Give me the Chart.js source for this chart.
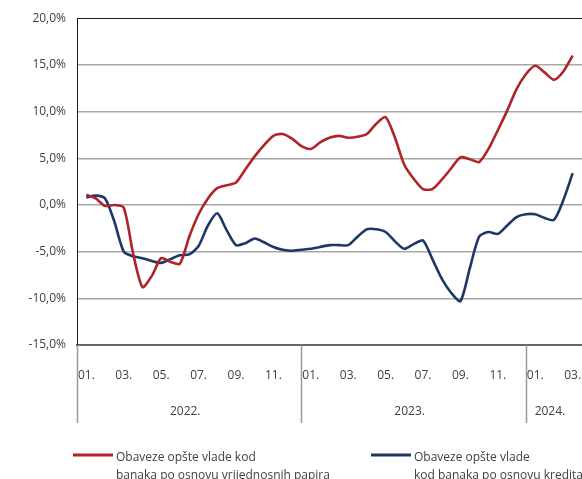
<!DOCTYPE html>
<html>
<head>
<meta charset="utf-8">
<script src="https://cdn.jsdelivr.net/npm/chart.js@4.4.1/dist/chart.umd.min.js"></script>
<style>
  html, body { margin: 0; padding: 0; background: #fff; }
</style>
</head>
<body>
<canvas id="myChart" width="582" height="479"></canvas>
<script>
// mjeseci od 01.2022 do 03.2024
const monthLabels = [
  '01.', '02.', '03.', '04.', '05.', '06.', '07.', '08.', '09.', '10.', '11.', '12.',
  '01.', '02.', '03.', '04.', '05.', '06.', '07.', '08.', '09.', '10.', '11.', '12.',
  '01.', '02.', '03.'
];
const yearLabels = ['2022.', '2023.', '2024.'];
const yearStart = [0, 12, 24];
const yearEnd = [12, 24, 27];

const yTicks = [20, 15, 10, 5, 0, -5, -10, -15];

// polumjesecni podaci (15. i kraj mjeseca), od sredine 01.2022 do sredine 03.2024
const hartijeValues = [
  1.1, 0.7, -0.1, 0.0, -0.3, -5.2, -8.8, -7.6, -5.7, -6.1,
  -6.3, -3.4, -1.0, 0.7, 1.8, 2.1, 2.4, 3.8, 5.2, 6.4,
  7.4, 7.6, 7.1, 6.3, 6.0, 6.7, 7.2, 7.4, 7.2, 7.3,
  7.6, 8.7, 9.4, 7.2, 4.3, 2.8, 1.7, 1.7, 2.7, 3.9,
  5.1, 4.9, 4.6, 6.0, 8.0, 10.1, 12.4, 14.0, 14.9, 14.2,
  13.4, 14.3, 16.0
];
const kreditiValues = [
  0.8, 1.0, 0.7, -1.8, -5.0, -5.5, -5.7, -6.0, -6.2, -5.8,
  -5.4, -5.3, -4.4, -2.2, -0.9, -2.7, -4.3, -4.1, -3.6, -4.0,
  -4.5, -4.8, -4.9, -4.8, -4.7, -4.5, -4.3, -4.3, -4.3, -3.4,
  -2.6, -2.6, -2.9, -3.9, -4.7, -4.2, -3.8, -5.8, -7.9, -9.4,
  -10.3, -6.8, -3.4, -2.9, -3.1, -2.2, -1.3, -1.0, -1.0, -1.4,
  -1.6, 0.5, 3.4
];

const seriesLabels = [
  ['Obaveze opšte vlade kod', 'banaka po osnovu vrijednosnih papira'],
  ['Obaveze opšte vlade', 'kod banaka po osnovu kredita']
];

const redColor = '#b0232a';
const blueColor = '#1d3766';

// pozicija tačke na osi u mjesecima (0 = početak 01.2022)
function toPoints(values) {
  return values.map((v, k) => ({ x: 0.5 + 0.5 * k, y: v }));
}

function fmtPct(v) {
  return v.toFixed(1).replace('.', ',') + '%';
}

// godine i vertikalne linije ispod ose
const yearPlugin = {
  id: 'yearAxis',
  afterDraw(chart) {
    const ctx = chart.ctx;
    const xs = chart.scales.x;
    const bottom = chart.chartArea.bottom;
    ctx.save();
    ctx.strokeStyle = '#9a9a9a';
    ctx.lineWidth = 1.5;
    yearStart.forEach(m => {
      const px = Math.round(xs.getPixelForValue(m)) + 0.5;
      ctx.beginPath();
      ctx.moveTo(px, bottom);
      ctx.lineTo(px, 423);
      ctx.stroke();
    });
    ctx.fillStyle = '#404040';
    ctx.font = '12px "Open Sans", sans-serif';
    ctx.textAlign = 'center';
    ctx.textBaseline = 'middle';
    yearLabels.forEach((lbl, i) => {
      const mid = xs.getPixelForValue((yearStart[i] + yearEnd[i]) / 2);
      ctx.fillText(lbl, mid - 4, 412);
    });
    ctx.restore();
  }
};

// legenda sa dva reda teksta
const legendPlugin = {
  id: 'twoLineLegend',
  afterDraw(chart) {
    const ctx = chart.ctx;
    const spots = [{ x: 73 }, { x: 371 }];
    ctx.save();
    ctx.font = '12px "Open Sans", sans-serif';
    ctx.fillStyle = '#404040';
    ctx.textAlign = 'left';
    ctx.textBaseline = 'alphabetic';
    chart.data.datasets.forEach((ds, i) => {
      const x0 = spots[i].x;
      ctx.strokeStyle = ds.borderColor;
      ctx.lineWidth = 3;
      ctx.beginPath();
      ctx.moveTo(x0, 455);
      ctx.lineTo(x0 + 40, 455);
      ctx.stroke();
      ds.label.forEach((line, j) => {
        ctx.fillText(line, x0 + 43, 461 + j * 18);
      });
    });
    ctx.restore();
  }
};

const ctx = document.getElementById('myChart').getContext('2d');

new Chart(ctx, {
  type: 'line',
  data: {
    datasets: [
      {
        label: seriesLabels[0],
        data: toPoints(hartijeValues),
        borderColor: redColor,
        borderWidth: 2.6,
        pointRadius: 0,
        tension: 0.25,
        fill: false
      },
      {
        label: seriesLabels[1],
        data: toPoints(kreditiValues),
        borderColor: blueColor,
        borderWidth: 2.6,
        pointRadius: 0,
        tension: 0.25,
        fill: false
      }
    ]
  },
  options: {
    responsive: false,
    animation: false,
    devicePixelRatio: 1,
    layout: { padding: { top: 14, left: 0, right: 0, bottom: 0 } },
    plugins: {
      legend: { display: false },
      tooltip: { enabled: false }
    },
    scales: {
      x: {
        type: 'linear',
        min: 0,
        max: 27,
        afterBuildTicks: scale => {
          scale.ticks = monthLabels
            .map((l, i) => ({ value: i + 0.5 }))
            .filter((t, i) => i % 2 === 0);
        },
        afterFit: scale => {
          scale.height = 134;
          scale.paddingRight = 0;
        },
        grid: { display: false, drawTicks: true, tickLength: 21 },
        border: { display: true, color: '#666666', width: 2 },
        ticks: {
          autoSkip: false,
          maxRotation: 0,
          padding: 2,
          color: '#404040',
          font: { family: '"Open Sans", sans-serif', size: 12 },
          callback: value => monthLabels[Math.floor(value)]
        }
      },
      y: {
        min: -15,
        max: 20,
        afterBuildTicks: scale => {
          scale.ticks = yTicks.map(v => ({ value: v }));
        },
        afterFit: scale => { scale.width = 77; },
        grid: {
          drawTicks: false,
          color: c => c.tick.value === 20 ? '#1a1a1a' : (c.tick.value === -15 ? '#666666' : '#a8a8a8'),
          lineWidth: c => c.tick.value === 20 ? 1 : (c.tick.value === -15 ? 2 : 1.5)
        },
        border: { display: true, color: '#1a1a1a', width: 1 },
        ticks: {
          padding: 11,
          color: '#404040',
          font: { family: '"Open Sans", sans-serif', size: 12 },
          callback: value => fmtPct(value)
        }
      }
    }
  },
  plugins: [yearPlugin, legendPlugin]
});
</script>
</body>
</html>
